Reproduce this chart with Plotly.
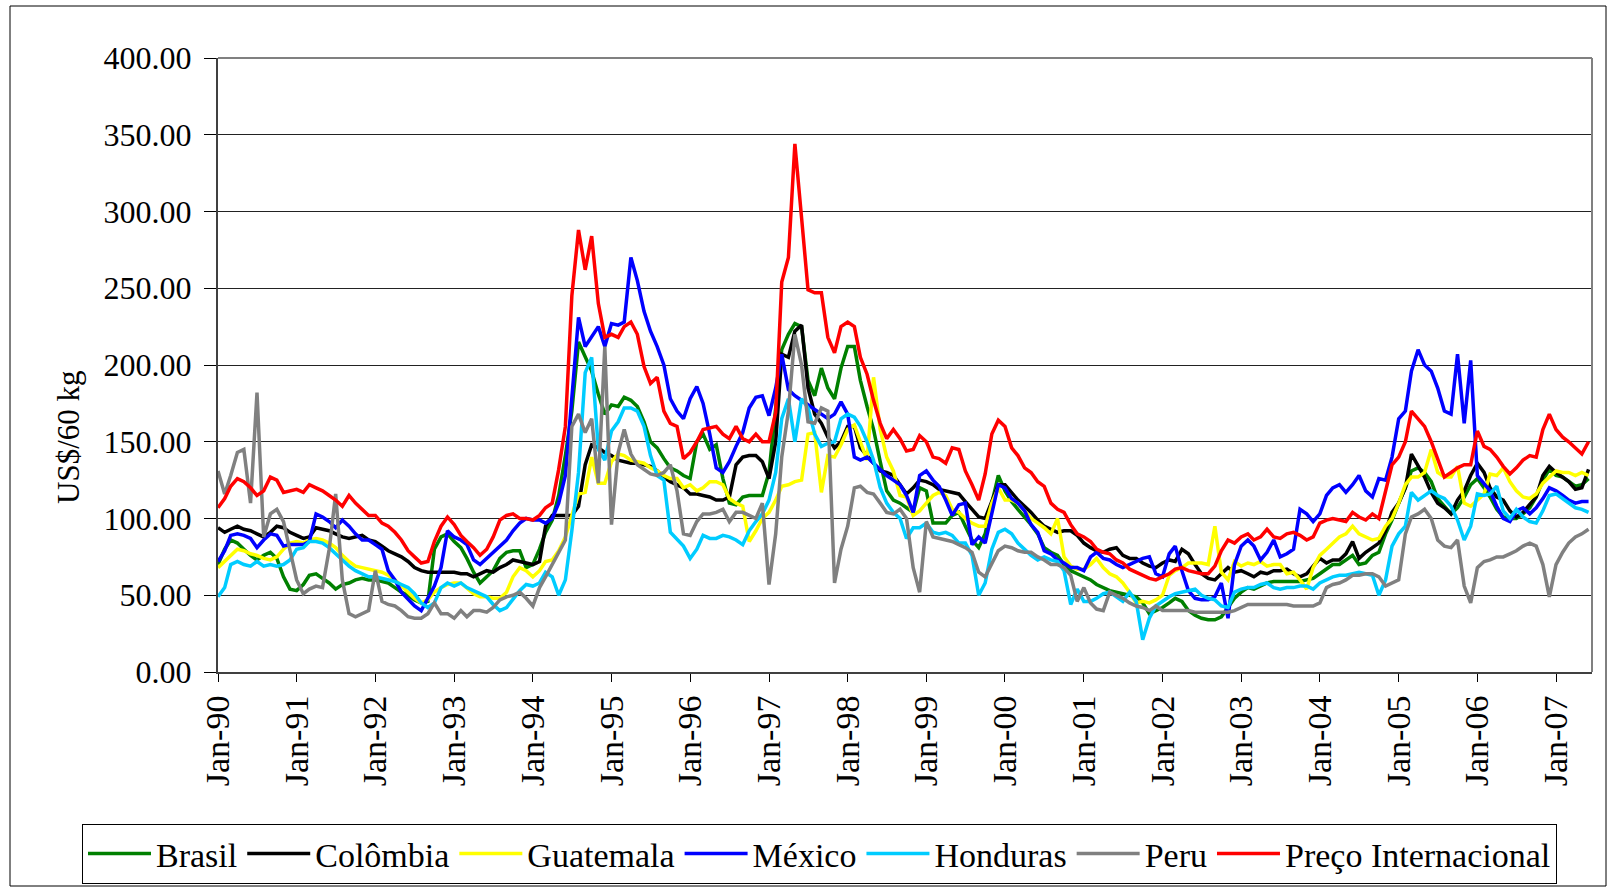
import pandas as pd
import plotly.graph_objects as go

# monthly observations, Jan-1990 .. Jun-2007
months = pd.date_range("1990-01-01", periods=210, freq="MS")

series_names = ["Brasil", "Colômbia", "Guatemala", "México", "Honduras", "Peru", "Preço Internacional"]
series_colors = ["#008000", "#000000", "#FFFF00", "#0000FF", "#00CCFF", "#808080", "#FF0000"]

brasil = [
    70, 80, 86, 84, 80, 76, 73, 76, 78, 74, 62, 54,
    53, 57, 63, 64, 61, 58, 54, 57, 58, 60, 61, 60,
    60, 59, 58, 55, 52, 50, 47, 45, 46, 80, 88, 90,
    85, 81, 74, 65, 58, 62, 66, 74, 78, 79, 79, 68,
    70, 80, 91, 99, 115, 141, 170, 215, 205, 196, 181, 168,
    174, 173, 179, 177, 173, 163, 150, 146, 139, 133, 131, 128,
    126, 150, 155, 145, 148, 126, 110, 109, 114, 115, 115, 115,
    130, 175, 210, 220, 227, 225, 190, 180, 198, 185, 178, 198,
    212, 212, 190, 173, 158, 137, 118, 112, 110, 107, 104, 120,
    118, 97, 97, 97, 102, 104, 95, 86, 81, 90, 110, 128,
    118, 111, 106, 101, 96, 90, 81, 78, 76, 70, 66, 64,
    62, 60, 57, 55, 53, 52, 51, 50, 49, 45, 38, 40,
    42, 45, 48, 46, 40, 37, 35, 34, 34, 36, 42, 48,
    52, 55, 54, 56, 58, 59, 59, 59, 59, 59, 60, 61,
    64, 67, 70, 70, 73, 76, 70, 71, 76, 78, 90, 99,
    110, 120, 131, 133, 130, 124, 113, 108, 103, 107, 114, 122,
    126, 120, 114, 106, 101, 100, 100, 103, 107, 114, 125, 132,
    128, 127, 124, 121, 122, 126,
]

colombia = [
    94, 91, 93, 95, 93, 92, 90, 88, 91, 95, 94, 91,
    89, 87, 88, 94, 93, 92, 90, 88, 87, 88, 89, 86,
    85, 82, 79, 77, 75, 72, 68, 66, 65, 65, 65, 65,
    65, 64, 64, 62, 64, 66, 65, 68, 70, 73, 72, 71,
    70, 72, 95, 102, 102, 102, 102, 108, 135, 148, 146, 143,
    141, 138, 137, 136, 136, 135, 134, 131, 127, 124, 122, 120,
    116, 116, 115, 114, 112, 112, 114, 135, 140, 141, 141, 137,
    126, 150, 207, 205, 222, 226, 185, 168, 162, 153, 146, 150,
    160, 160, 146, 141, 136, 131, 130, 128, 122, 116, 120, 125,
    124, 122, 119, 118, 117, 116, 111, 106, 101, 100, 112, 122,
    122, 117, 112, 108, 104, 99, 95, 93, 91, 92, 92, 89,
    84, 81, 79, 78, 80, 81, 76, 74, 74, 71, 69, 68,
    71, 73, 72, 80, 77, 70, 64, 61, 60, 64, 68, 65,
    66, 64, 62, 65, 64, 66, 66, 67, 64, 62, 64, 69,
    74, 71, 73, 73, 77, 85, 74, 78, 81, 84, 92, 104,
    110, 120, 142, 134, 127, 117, 110, 107, 103, 112, 118, 128,
    136, 130, 120, 114, 112, 105, 101, 104, 109, 114, 128, 134,
    130, 127, 124, 119, 120, 132,
]

guatemala = [
    68, 72, 76, 80, 79, 77, 76, 74, 73, 75, 80, 84,
    85, 84, 86, 87, 86, 84, 81, 76, 72, 69, 68, 67,
    66, 65, 63, 60, 56, 52, 48, 45, 47, 52, 55, 57,
    58, 58, 55, 51, 49, 49, 48, 48, 52, 62, 68, 66,
    62, 66, 72, 73, 79, 88, 102, 116, 117, 140, 123, 123,
    137, 142, 141, 138, 137, 136, 133, 131, 128, 126, 126, 120,
    122, 118, 120, 124, 124, 122, 113, 110, 108, 85, 92, 100,
    104, 112, 121, 122, 124, 125, 155, 156, 117, 141, 140, 148,
    158, 161, 150, 138, 192, 158, 140, 131, 115, 114, 102, 105,
    110, 115, 117, 115, 106, 104, 100, 97, 95, 95, 110, 120,
    112, 112, 110, 105, 100, 97, 94, 90, 100, 75, 69, 67,
    67, 70, 74, 68, 64, 62, 58, 52, 45, 46, 45, 47,
    50, 63, 66, 68, 71, 71, 71, 70, 95, 65, 60, 72,
    69, 71, 70, 72, 69, 70, 70, 64, 65, 60, 54, 68,
    76, 80, 84, 88, 90, 95, 90, 88, 86, 87, 95, 100,
    110, 122, 127, 127, 130, 145, 130, 127, 127, 134, 110, 108,
    112, 116, 129, 128, 133, 124, 118, 114, 113, 116, 123, 127,
    131, 130, 130, 128, 130, 128,
]

mexico = [
    72, 79, 89, 90, 89, 87, 81, 86, 90, 89, 82, 83,
    83, 83, 85, 103, 101, 98, 94, 99, 95, 90, 86, 86,
    83, 80, 66, 60, 52, 47, 43, 40, 48, 56, 68, 92,
    88, 86, 83, 73, 70, 74, 78, 82, 86, 92, 97, 100,
    99, 99, 97, 100, 110, 128, 180, 231, 212, 218, 225, 212,
    227, 226, 228, 270, 255, 235, 222, 212, 200, 178, 170, 165,
    178, 186, 175, 155, 133, 130, 137, 147, 156, 172, 179, 180,
    167, 185, 207, 184, 180, 177, 174, 171, 168, 165, 168, 176,
    168, 140, 138, 140, 136, 132, 128, 125, 122, 115, 104, 128,
    131, 125, 121, 112, 102, 109, 110, 83, 88, 84, 104, 122,
    120, 113, 110, 105, 96, 91, 79, 77, 73, 71, 68, 68,
    66, 75, 78, 74, 73, 70, 68, 70, 72, 74, 75, 64,
    62, 77, 82, 66, 53, 48, 47, 47, 49, 58, 35, 70,
    82, 86, 82, 73, 78, 86, 75, 77, 80, 106, 103, 98,
    103, 115, 120, 122, 117, 122, 128, 118, 114, 126, 125, 140,
    165, 170, 196, 210, 200, 196, 185, 170, 168, 207, 162, 203,
    128, 123, 118, 108, 100, 98, 105, 107, 103, 107, 113, 120,
    118, 115, 112, 110, 111, 111,
]

honduras = [
    49, 55, 70, 72, 70, 69, 72, 69, 70, 69, 70, 73,
    80, 81, 85, 85, 84, 81, 77, 73, 69, 66, 64, 62,
    62, 61, 60, 59, 57, 55, 51, 45, 42, 45, 55, 58,
    56, 58, 55, 53, 51, 49, 44, 40, 42, 47, 53, 57,
    56, 58, 65, 62, 50, 60, 92, 130, 195, 205, 145, 138,
    157, 163, 172, 172, 170, 160, 141, 128, 125, 91, 86, 82,
    74, 80, 89, 87, 87, 89, 88, 86, 83, 92, 98, 103,
    112, 130, 165, 178, 150, 178, 172, 155, 147, 149, 150, 165,
    168, 166, 160, 150, 138, 120, 110, 104, 100, 87, 94, 94,
    97, 91, 90, 91, 89, 84, 84, 76, 50, 58, 80, 91,
    93, 90, 84, 80, 76, 73, 75, 73, 72, 66, 44, 54,
    46, 46, 48, 51, 52, 49, 46, 52, 46, 21, 35, 43,
    46, 49, 51, 52, 53, 54, 50, 48, 47, 43, 42, 52,
    54, 55, 55, 57, 58, 55, 54, 55, 55, 56, 56, 54,
    58, 60, 62, 63, 63, 64, 65, 64, 63, 50, 60, 82,
    90, 95, 117, 112, 115, 118, 115, 113, 108, 99, 86, 95,
    116, 115, 116, 121, 105, 100, 106, 101, 98, 97, 105, 115,
    116, 113, 110, 107, 106, 104,
]

peru = [
    131, 116, 128, 143, 145, 110, 182, 88, 103, 106, 98, 80,
    60, 51, 54, 56, 55, 80, 116, 60, 38, 36, 38, 40,
    66, 46, 44, 43, 40, 36, 35, 35, 38, 45, 38, 38,
    35, 40, 36, 40, 40, 39, 42, 47, 49, 50, 52, 48,
    43, 55, 62, 70, 78, 86, 160, 168, 156, 165, 123, 212,
    96, 143, 158, 142, 135, 132, 129, 128, 130, 135, 118, 90,
    89, 98, 103, 103, 104, 106, 98, 104, 104, 102, 100, 110,
    57, 90, 140, 170, 220, 200, 163, 162, 172, 170, 58, 80,
    95, 120, 121, 117, 116, 110, 104, 103, 106, 100, 68, 52,
    98, 88, 87, 86, 85, 83, 81, 78, 65, 62, 71, 79,
    82, 81, 79, 78, 78, 75, 73, 70, 70, 68, 63, 46,
    55, 45, 41, 40, 52, 50, 48, 45, 43, 42, 40, 43,
    40, 40, 40, 40, 40, 39, 39, 39, 39, 39, 39, 40,
    42, 44, 44, 44, 44, 44, 44, 44, 43, 43, 43, 43,
    45, 55, 57, 58, 60, 63, 63, 64, 64, 62, 56, 58,
    60, 90, 101, 103, 106, 100, 86, 82, 81, 86, 56, 45,
    68, 72, 73, 75, 75, 77, 79, 82, 84, 82, 70, 49,
    70, 78, 84, 88, 90, 93,
]

preco_internacional = [
    107, 113, 121, 126, 124, 120, 115, 118, 127, 125, 117, 118,
    119, 117, 122, 120, 118, 115, 112, 108, 115, 110, 106, 102,
    102, 97, 95, 91, 86, 79, 75, 71, 72, 85, 95, 101,
    96, 89, 85, 81, 76, 80, 88, 99, 102, 103, 100, 100,
    99, 102, 107, 110, 132, 160, 245, 288, 262, 284, 240, 218,
    220, 218, 225, 228, 220, 199, 188, 192, 170, 162, 160, 139,
    143, 150, 158, 159, 160, 155, 152, 160, 152, 150, 155, 150,
    150, 169, 254, 270, 344, 296, 249, 247, 247, 218, 208, 225,
    228, 225, 205, 194, 177, 162, 152, 158, 152, 144, 145, 154,
    150, 140, 139, 136, 146, 145, 131, 122, 112, 129, 155, 164,
    160, 146, 141, 133, 130, 124, 121, 110, 106, 104, 96, 90,
    88, 85, 80, 78, 77, 73, 71, 67, 65, 63, 61, 60,
    62, 64, 67, 68, 66, 65, 64, 64, 69, 79, 86, 84,
    88, 90, 86, 88, 93, 88, 87, 90, 91, 89, 86, 88,
    97, 99, 100, 99, 98, 104, 101, 99, 103, 100, 118, 135,
    140, 150, 170, 165, 160, 150, 138, 127, 130, 133, 135, 135,
    157, 147, 145, 140, 134, 129, 133, 138, 141, 140, 158, 168,
    158, 153, 150, 146, 142, 150,
]

all_series = [brasil, colombia, guatemala, mexico, honduras, peru, preco_internacional]

FONT = "Liberation Serif, Times New Roman, serif"

# pixel geometry of the plot area inside the 1610x887 canvas
W, H = 1610, 887
L, R, T, B = 218, 1592, 58, 672
pw, ph = R - L, B - T


def px_x(p):
    return (p - L) / pw


def px_y(p):
    return (B - p) / ph


fig = go.Figure()
for name, color, vals in zip(series_names, series_colors, all_series):
    fig.add_trace(go.Scatter(
        x=months, y=vals, name=name, mode="lines",
        line=dict(color=color, width=3.5),
    ))

fig.update_layout(
    width=W, height=H,
    paper_bgcolor="white", plot_bgcolor="white",
    font=dict(family=FONT, color="black", size=32),
    margin=dict(l=L, r=W - R, t=T, b=H - B, autoexpand=False),
    showlegend=True,
    legend=dict(
        orientation="h", x=px_x(82), xanchor="left", y=px_y(824), yanchor="top",
        bordercolor="black", borderwidth=1, bgcolor="white",
        font=dict(family=FONT, size=34, color="black"),
        itemwidth=63, tracegroupgap=0,
    ),
    xaxis=dict(
        type="date", range=["1990-01-01", "2007-06-17"],
        tick0="1990-01-01", dtick="M12", tickformat="%b-%y",
        tickangle=-90, ticks="outside", ticklen=8, tickwidth=1, tickcolor="black",
        showgrid=False, zeroline=False, showline=True, linecolor="#404040", linewidth=2,
        tickfont=dict(family=FONT, size=34, color="black"),
        ticklabelstandoff=0, automargin=False,
    ),
    yaxis=dict(
        range=[0, 400], dtick=50, tick0=0, tickformat=".2f",
        showgrid=True, gridcolor="#222222", gridwidth=1,
        ticks="outside", ticklen=12, tickwidth=1, tickcolor="black",
        zeroline=False, showline=True, linecolor="#404040", linewidth=2,
        tickfont=dict(family=FONT, size=32, color="black"),
        ticklabelstandoff=6, automargin=False,
    ),
    shapes=[
        # plot-area frame (top/right in grey)
        dict(type="line", xref="paper", yref="paper", x0=0, x1=1, y0=1, y1=1,
             line=dict(color="#808080", width=2)),
        dict(type="line", xref="paper", yref="paper", x0=1, x1=1, y0=0, y1=1,
             line=dict(color="#808080", width=2)),
        # outer chart border
        dict(type="rect", xref="paper", yref="paper",
             x0=px_x(10), x1=px_x(1606), y0=px_y(886), y1=px_y(6),
             line=dict(color="black", width=1), fillcolor="rgba(0,0,0,0)", layer="below"),
    ],
    annotations=[
        dict(text="US$/60 kg", xref="paper", yref="paper",
             x=px_x(68), y=px_y(437), textangle=-90, showarrow=False,
             xanchor="center", yanchor="middle",
             font=dict(family=FONT, size=31, color="black")),
    ],
)

fig.write_html(
    "out.html",
    config={"displayModeBar": False},
    post_script="document.body.style.margin='0';document.body.style.overflow='hidden';",
)
